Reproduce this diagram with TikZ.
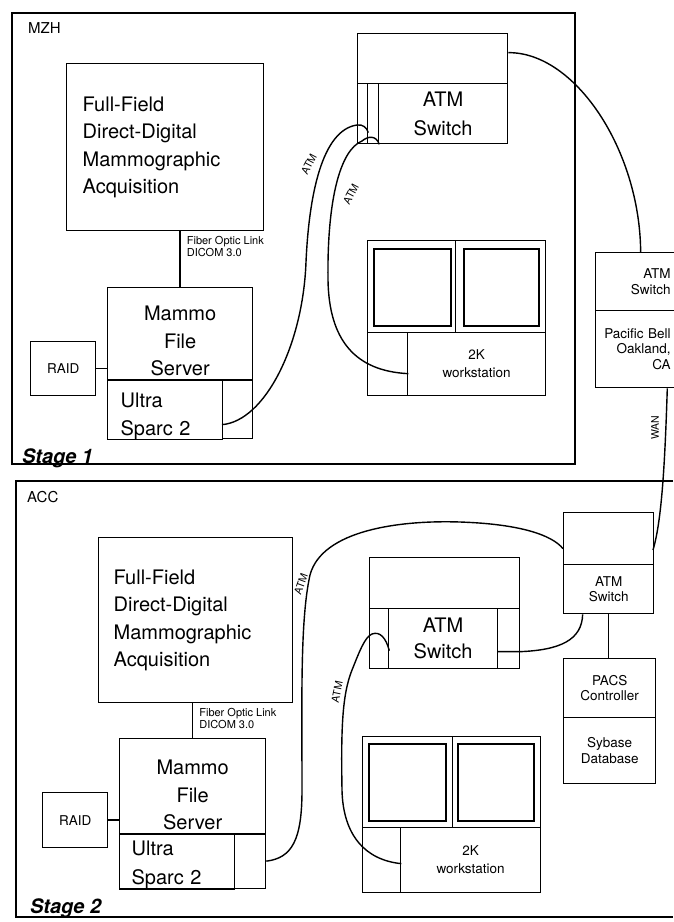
\documentclass[tikz,border=0pt]{standalone}
\usepackage{fontspec}
\setmainfont{TeX Gyre Heros}
\usetikzlibrary{positioning}

\begin{document}
\begin{tikzpicture}[x=1pt, y=-1pt,
    box/.style={draw, line width=1.3pt, anchor=north west, inner sep=0pt},
    scr/.style={draw, line width=2pt, anchor=north west, inner sep=0pt},
    big/.style={font=\fontsize{20}{27.5}\selectfont},
    sml/.style={font=\fontsize{13.5}{15.5}\selectfont},
    tag/.style={font=\fontsize{11}{12.5}\selectfont, inner sep=1pt, align=left},
    lbl/.style={font=\fontsize{10.5}{12}\selectfont, inner sep=0pt},
    stg/.style={font=\fontsize{20}{24}\selectfont\bfseries\itshape, anchor=west, inner sep=0pt},
    site/.style={font=\fontsize{15}{18}\selectfont, anchor=west, inner sep=0pt},
    link/.style={line width=1.4pt},
    frame/.style={line width=1.4pt}]
  \useasboundingbox (0,0) rectangle (673,922);

  % Stage 1 (MZH)
  \draw[frame] (12,13) rectangle (575,464);
  \node[site] (mzh) at (28,28) {MZH};
  \node[stg] (stA) at (22,458) {Stage 1};

  \node[box, big, minimum width=197, minimum height=167, text width=165, inner xsep=16, align=left] (acqA) at (66,63) {Full-Field\\Direct-Digital\\Mammographic\\Acquisition};
  \node[box, big, minimum width=145, minimum height=92, inner ysep=4, align=center] (srvA) at (107,287) {\rule{0pt}{29pt}Mammo\\File\\Server};
  \node[box, big, minimum width=115, minimum height=59, text width=89, inner xsep=13, align=left] (sparcA) at (107,379) {\rule{0pt}{28pt}Ultra\\Sparc 2};
  \node[box, minimum width=30, minimum height=59] (sparcAx) at (222,379) {};
  \node[box, sml, minimum width=65, minimum height=54] (raidA) at (30,341) {RAID};

  \node[box, minimum width=150, minimum height=50] (atmAtop) at (357,33) {};
  \node[box, minimum width=10, minimum height=60] (colA1) at (357,83) {};
  \node[box, minimum width=11, minimum height=60] (colA2) at (367,83) {};
  \node[box, font=\fontsize{20}{29}\selectfont, minimum width=129, minimum height=60, align=center] (atmA) at (378,83) {ATM\\Switch};

  \node[box, minimum width=88, minimum height=92] (monA1) at (367,240) {};
  \node[box, minimum width=90, minimum height=92] (monA2) at (455,240) {};
  \node[scr, minimum width=77, minimum height=77] (scrA1) at (373,248) {};
  \node[scr, minimum width=75, minimum height=77] (scrA2) at (463,248) {};
  \node[box, minimum width=40, minimum height=63] (wsAcol) at (367,332) {};
  \node[box, font=\fontsize{13.5}{18}\selectfont, minimum width=138, minimum height=63, align=center] (wsA) at (407,332) {2K\\workstation};

  \node[box, sml, minimum width=79, minimum height=58, text width=71, inner xsep=4, align=right] (pbSw) at (595,252) {ATM\\Switch};
  \node[box, sml, minimum width=79, minimum height=77, text width=71, inner xsep=4, align=right] (pb) at (595,310) {Pacific Bell\\Oakland,\\CA};

  \draw[link] (raidA.east) -- (raidA.east -| srvA.west);
  \draw[link] (srvA.north) -- (srvA.north |- acqA.south) node[tag, anchor=north west, xshift=5pt, yshift=-3pt] (fibA) {Fiber Optic Link\\DICOM 3.0};
  \draw[link] ([yshift=-15.5pt]sparcAx.west) .. controls (265,421) and (303,345) .. (306,262) .. controls (309,195) and (322,130) .. (357,125) .. controls (363,124) and (367,128) .. ([yshift=-19pt]colA1.east);
  \draw[link] ([yshift=-9.5pt]wsAcol.east) .. controls (355,371) and (329,340) .. (328,280) .. controls (327,200) and (340,150) .. (362,141) .. controls (368,136) and (376,135) .. (colA2.south east);
  \draw[link] ([yshift=6pt]atmAtop.east) .. controls (575,52) and (640,150) .. ([xshift=5.5pt]pbSw.north);
  \draw[link] ([xshift=-8pt]pb.south east) .. controls (665,460) and (662,520) .. (653,550) coordinate (wanEnd);
  \node[lbl, rotate=62] (atmLa) at (309,164) {ATM};
  \node[lbl, rotate=62] (atmLb) at (351,194) {ATM};
  \node[lbl, rotate=90] (wan) at (655,428) {WAN};

  % Stage 2 (ACC)
  \draw[frame] (673,481) -- (16,481) -- (16,917) -- (673,917);
  \node[site] (acc) at (27,497) {ACC};
  \node[stg] (stB) at (30,908) {Stage 2};

  \node[box, big, minimum width=194, minimum height=165, text width=164, inner xsep=15, align=left] (acqB) at (98,537) {Full-Field\\Direct-Digital\\Mammographic\\Acquisition};
  \node[box, big, minimum width=146, minimum height=95, inner ysep=4, align=center] (srvB) at (119,738) {\rule{0pt}{32pt}Mammo\\File\\Server};
  \node[box, font=\fontsize{20}{29}\selectfont, minimum width=115, minimum height=55, text width=91, inner xsep=12, align=left] (sparcB) at (119,833) {\rule{0pt}{22pt}Ultra\\Sparc 2};
  \node[box, minimum width=31, minimum height=55] (sparcBx) at (234,833) {};
  \node[box, sml, minimum width=65, minimum height=55] (raidB) at (42,792) {RAID};

  \node[box, minimum width=150, minimum height=51] (atmBtop) at (369,557) {};
  \node[box, minimum width=19, minimum height=60] (colB1) at (369,608) {};
  \node[box, font=\fontsize{20}{26}\selectfont, minimum width=109, minimum height=60, align=center] (atmB) at (388,608) {ATM\\Switch};
  \node[box, minimum width=22, minimum height=60] (colB2) at (497,608) {};

  \node[box, minimum width=90, minimum height=91] (monB1) at (362,736) {};
  \node[box, minimum width=88, minimum height=91] (monB2) at (452,736) {};
  \node[scr, minimum width=77, minimum height=77] (scrB1) at (368,743) {};
  \node[scr, minimum width=76, minimum height=77] (scrB2) at (457,743) {};
  \node[box, minimum width=38, minimum height=65] (wsBcol) at (362,827) {};
  \node[box, font=\fontsize{13.5}{18}\selectfont, minimum width=140, minimum height=65, align=center] (wsB) at (400,827) {2K\\workstation};

  \node[box, minimum width=90, minimum height=52] (wanTop) at (563,512) {};
  \node[box, sml, minimum width=90, minimum height=49, align=center] (wanSw) at (563,564) {ATM\\Switch};
  \node[box, sml, minimum width=92, minimum height=59, align=center] (pacs) at (563,658) {PACS\\Controller};
  \node[box, sml, minimum width=92, minimum height=66, align=center] (syb) at (563,717) {Sybase\\Database};

  \draw[link] (raidB.east) -- (raidB.east -| srvB.west);
  \draw[link] (srvB.north) -- (srvB.north |- acqB.south) node[tag, anchor=north west, xshift=5pt, yshift=-3pt] (fibB) {Fiber Optic Link\\DICOM 3.0};
  \draw[link] (sparcBx.east) .. controls (292,858) and (302,840) .. (302,790) .. controls (302,700) and (300,620) .. (310,575) .. controls (322,530) and (400,520) .. (460,522) .. controls (520,524) and (552,535) .. ([yshift=-10pt]wanTop.west);
  \draw[link] ([yshift=-3.5pt]wsBcol.east) .. controls (365,860) and (343,835) .. (342,790) .. controls (341,730) and (342,695) .. (352,670) .. controls (360,650) and (365,637) .. (372,634) .. controls (380,631) and (386,638) .. ([yshift=-12pt]colB1.east);
  \draw[link] ([yshift=-13pt]colB2.west) -- ([yshift=-13pt]colB2.east) .. controls (560,650) and (582,640) .. ([xshift=-26pt]wanSw.south);
  \draw[link] (wanSw.south) -- (wanSw.south |- pacs.north);
  \node[lbl, rotate=70] (atmLc) at (301,584) {ATM};
  \node[lbl, rotate=78] (atmLd) at (337,692) {ATM};
\end{tikzpicture}
\end{document}
